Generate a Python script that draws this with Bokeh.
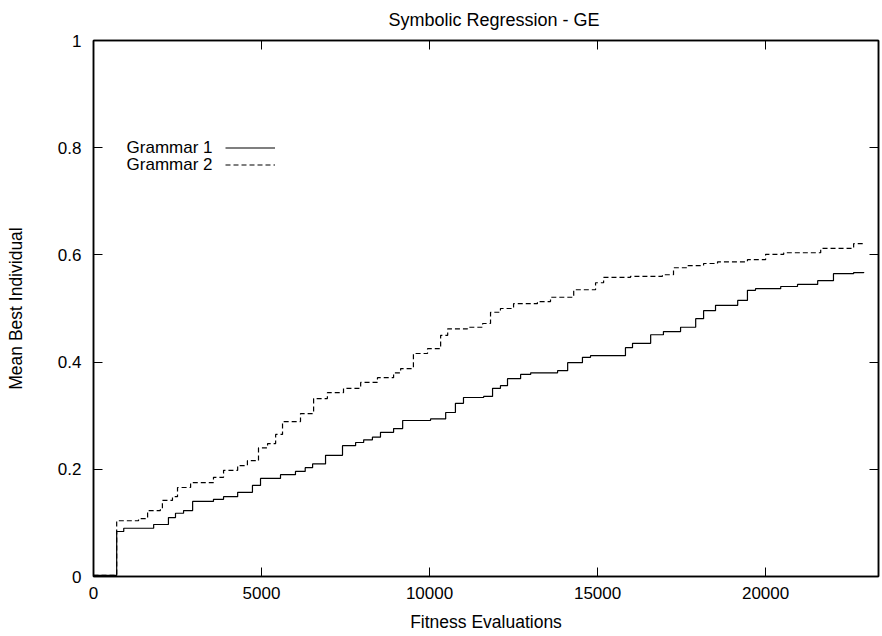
from bokeh.plotting import figure
from bokeh.models import (Range1d, FixedTicker, LinearAxis, Legend, LegendItem, Label,
                          CustomLabelingPolicy)
from bokeh.embed import file_html
from bokeh.resources import INLINE

# ---- data ----
evals_g1 = [0, 690, 900, 1790, 2230, 2440, 2680, 2950, 3570, 3870, 4290, 4730, 4970,
            5565, 6010, 6300, 6520, 6905, 7410, 7800, 8040, 8300, 8540, 8930, 9200,
            10030, 10480, 10770, 11010, 11610, 11875, 12110, 12320, 12710, 13010,
            13810, 14110, 14550, 14790, 15830, 16040, 16580, 16960, 17470, 17920,
            18155, 18510, 19170, 19460, 19700, 20450, 20950, 21550, 22020, 22620, 22920]
best_g1 = [0.002, 0.084, 0.090, 0.097, 0.110, 0.118, 0.123, 0.140, 0.144, 0.149, 0.157, 0.170, 0.183,
           0.190, 0.196, 0.203, 0.210, 0.226, 0.244, 0.250, 0.255, 0.260, 0.269, 0.276, 0.291,
           0.294, 0.306, 0.323, 0.334, 0.336, 0.351, 0.356, 0.369, 0.377, 0.380,
           0.384, 0.399, 0.409, 0.412, 0.427, 0.435, 0.451, 0.457, 0.465, 0.481,
           0.496, 0.506, 0.515, 0.534, 0.537, 0.541, 0.545, 0.552, 0.565, 0.567, 0.568]

evals_g2 = [0, 690, 1340, 1610, 1990, 2050, 2350, 2500, 2890, 3570, 3870, 4290, 4580,
            4910, 5180, 5420, 5625, 6160, 6550, 6960, 7440, 7950, 8450, 8930, 9140,
            9520, 9940, 10330, 10540, 11130, 11580, 11815, 12110, 12500, 13210, 13600,
            14290, 14940, 15180, 15980, 16930, 17260, 17680, 18155, 18570, 19460,
            20000, 20540, 21640, 22620, 22920]
best_g2 = [0.002, 0.104, 0.108, 0.123, 0.127, 0.142, 0.149, 0.166, 0.175, 0.185, 0.198, 0.207, 0.216,
           0.240, 0.248, 0.265, 0.289, 0.304, 0.332, 0.343, 0.351, 0.362, 0.371, 0.380, 0.388,
           0.416, 0.425, 0.450, 0.462, 0.465, 0.472, 0.493, 0.500, 0.509, 0.513, 0.521,
           0.535, 0.548, 0.558, 0.560, 0.563, 0.576, 0.580, 0.584, 0.587, 0.591,
           0.601, 0.604, 0.612, 0.621, 0.621]

series_names = ["Grammar 1", "Grammar 2"]
x_ticks = [0, 5000, 10000, 15000, 20000]
y_ticks = [0, 0.2, 0.4, 0.6, 0.8, 1]

FONT = "Liberation Sans"
FS = "17px"
FS_LABEL = "17.5px"

p = figure(width=882, height=636, output_backend="svg", toolbar_location=None,
           x_range=Range1d(0, 23360), y_range=Range1d(0, 1),
           min_border_left=93, min_border_right=3, min_border_top=40, min_border_bottom=60,
           title="Symbolic Regression - GE",
           x_axis_label="Fitness Evaluations", y_axis_label="Mean Best Individual")

p.background_fill_color = "white"
p.border_fill_color = "white"
p.outline_line_color = "black"
p.outline_line_width = 1.5
p.xgrid.visible = False
p.ygrid.visible = False

p.title.text_font = FONT
p.title.text_font_size = "18px"
p.title.text_font_style = "normal"
p.title.text_line_height = 1.0
p.title.align = "left"
p.title.offset = 295
p.title.text_color = "black"
p.title.standoff = 13

r1 = p.step(evals_g1, best_g1, mode="after", line_color="black", line_width=1.2)
r2 = p.step(evals_g2, best_g2, mode="after", line_color="black", line_width=1.2, line_dash="5 3")

def style_axis(ax, ticks, labels=True):
    ax.ticker = FixedTicker(ticks=ticks)
    ax.minor_tick_line_color = None
    ax.major_tick_in = 9
    ax.major_tick_out = 0
    ax.major_tick_line_color = "black"
    ax.major_tick_line_width = 1
    ax.axis_line_color = "black"
    ax.axis_line_width = 1.5
    ax.major_label_text_font = FONT
    ax.major_label_text_color = "black"
    ax.major_label_text_font_size = FS
    ax.axis_label_text_font = FONT
    ax.axis_label_text_font_size = FS_LABEL
    ax.axis_label_text_font_style = "normal"
    ax.axis_label_text_color = "black"
    if not labels:
        ax.major_label_standoff = 0
        ax.major_label_text_font_size = "1px"
        ax.major_label_policy = CustomLabelingPolicy(
            code="for (const i of indices) { if (i < 0) { yield i } }")

xa = p.xaxis[0]
ya = p.yaxis[0]
style_axis(xa, x_ticks)
style_axis(ya, y_ticks)
xa.major_label_standoff = 10
xa.axis_label_standoff = 10
ya.major_label_standoff = 12
ya.axis_label_standoff = 29
ya.major_label_overrides = {0: "0", 1: "1"}

top_ax = LinearAxis()
right_ax = LinearAxis()
style_axis(top_ax, x_ticks, labels=False)
style_axis(right_ax, y_ticks, labels=False)
p.add_layout(top_ax, "above")
p.add_layout(right_ax, "right")

legend = Legend(items=[LegendItem(label=" ", renderers=[r1]),
                       LegendItem(label=" ", renderers=[r2])],
                location=(132, 403), padding=0, margin=0, spacing=0,
                glyph_width=50, glyph_height=17, label_height=17, label_width=0,
                label_standoff=0, label_text_font_size=FS,
                border_line_color=None, background_fill_alpha=0)
p.add_layout(legend, "center")

for i, name in enumerate(series_names):
    p.add_layout(Label(x=119, y=429 - 17 * i, x_units="screen", y_units="screen",
                       text=name, text_align="right", text_baseline="middle",
                       text_font=FONT, text_font_size=FS, text_color="black"))

open("out.html", "w").write(file_html(p, INLINE))
